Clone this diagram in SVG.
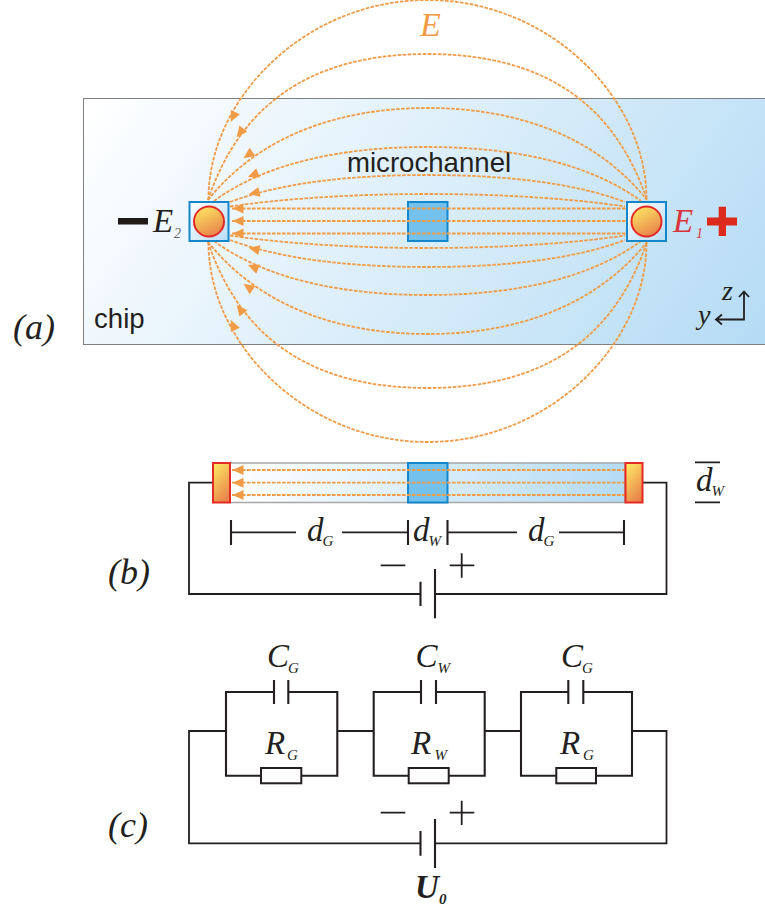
<svg xmlns="http://www.w3.org/2000/svg" width="765" height="909" viewBox="0 0 765 909">
<style>
.m{font-family:"Liberation Serif","DejaVu Serif",serif;font-style:italic;font-size:33px;fill:#231f20}
.s{font-size:15px}
.f{fill:none;stroke:#f29b46;stroke-width:1.8;stroke-dasharray:3.6 1.4}
.w{fill:none;stroke:#231f20;stroke-width:1.8}
.t{fill:none;stroke:#231f20;stroke-width:2.1}
.r{fill:#fff;stroke:#231f20;stroke-width:2}
.a{fill:#f29b46}
.l{font-family:"Liberation Sans",Arial,sans-serif;font-size:27.6px;fill:#231f20}
.el{fill:url(#gc);stroke:#e32b25;stroke-width:2}
.bx{stroke:#1487cb;stroke-width:2}
</style>
<defs>
<linearGradient id="gchip" gradientUnits="userSpaceOnUse" x1="150" y1="20" x2="720" y2="420"><stop offset="0" stop-color="#fff"/><stop offset="1" stop-color="#b4dbf5"/></linearGradient>
<linearGradient id="gbar" gradientUnits="userSpaceOnUse" x1="230" y1="463" x2="625" y2="503"><stop offset="0" stop-color="#fff"/><stop offset="1" stop-color="#b4dbf5"/></linearGradient>
<linearGradient id="gb" x1="0" y1="0" x2="1" y2="1"><stop offset="0" stop-color="#fbfdff"/><stop offset="1" stop-color="#b9ddf5"/></linearGradient>
<linearGradient id="gc" x1="0.2" y1="0" x2="0.7" y2="1"><stop offset="0" stop-color="#fde763"/><stop offset="1" stop-color="#e8804a"/></linearGradient>
<path id="ah" class="a" d="M5.500,0L-5.500,-5L-5.500,5Z"/>
</defs>
<g id="chip">
<rect x="83.500" y="98.500" width="690" height="246" fill="url(#gchip)" stroke="#808080" stroke-width="1"/>
<text class="l" x="94" y="328">chip</text>
<text class="l" x="347" y="172">microchannel</text>
</g>
<g id="channel"><rect class="bx" x="408" y="202" width="39.500" height="39" fill="#74c1ee"/></g>
<g id="connectors">
<path class="f" d="M208.500,200C208,98 306,0 427.500,0C549,0 647,98 646.500,200"/>
<path class="f" d="M208,200C240,105 310,54 427.500,54C545,54 615,105 647,200"/>
<path class="f" d="M208,200C260,135 340,108 427.500,108C515,108 595,135 647,200"/>
<path class="f" d="M214,201C270,160 350,147 427.500,147C505,147 585,160 641,201"/>
<path class="f" d="M230,202C280,183 350,175 427.500,175C505,175 575,183 625,202"/>
<path class="f" d="M230,206.500C280,199 350,194 427.500,194C505,194 575,199 625,206.500"/>
<path class="f" d="M232,208.500H626M232,221H626M232,233.500H626"/>
<path class="f" d="M230,235.500C280,243 350,248 427.500,248C505,248 575,243 625,235.500"/>
<path class="f" d="M230,240C280,259 350,267 427.500,267C505,267 575,259 625,240"/>
<path class="f" d="M214,241C270,282 350,295 427.500,295C505,295 585,282 641,241"/>
<path class="f" d="M208,242C260,307 340,334 427.500,334C515,334 595,307 647,242"/>
<path class="f" d="M208,242C240,337 310,388 427.500,388C545,388 615,337 647,242"/>
<path class="f" d="M208.500,242C208,344 306,442 427.500,442C549,442 647,344 646.500,242"/>
<use href="#ah" transform="translate(233,117) rotate(115)"/>
<use href="#ah" transform="translate(240,133) rotate(128)"/>
<use href="#ah" transform="translate(248,155) rotate(145)"/>
<use href="#ah" transform="translate(253,175) rotate(158)"/>
<use href="#ah" transform="translate(254,193) rotate(168)"/>
<use href="#ah" transform="translate(238,208.500) rotate(180)"/>
<use href="#ah" transform="translate(238,221) rotate(180)"/>
<use href="#ah" transform="translate(238,233.500) rotate(180)"/>
<use href="#ah" transform="translate(254,249) rotate(192)"/>
<use href="#ah" transform="translate(253,267) rotate(202)"/>
<use href="#ah" transform="translate(248,287) rotate(215)"/>
<use href="#ah" transform="translate(240,309) rotate(232)"/>
<use href="#ah" transform="translate(233,325) rotate(245)"/>
</g>
<g id="field-label"><text class="m" x="420" y="36" style="fill:#f29b46;font-size:34px">E</text></g>
<g id="E2">
<rect class="bx" x="189.500" y="202" width="39" height="39" fill="url(#gb)"/>
<circle class="el" cx="209" cy="221.500" r="15"/>
<rect x="118" y="218" width="30" height="6.500" fill="#1d1a18"/>
<text class="m" x="153" y="232">E<tspan class="s" x="174" y="238" style="font-size:14px;fill:#666">2</tspan></text>
</g>
<g id="E1">
<rect class="bx" x="627" y="202" width="39" height="39" fill="url(#gb)"/>
<circle class="el" cx="646.500" cy="221.500" r="15"/>
<text class="m" x="673" y="232" style="fill:#d9343a">E<tspan class="s" x="696" y="238" style="font-size:14px">1</tspan></text>
<path d="M707,217.500H718.700V206.700H726V217.500H737V225.600H726V236H718.700V225.600H707Z" fill="#dc2a1c"/>
</g>
<g id="axes">
<path class="w" d="M744,292V319.500H717M739,297L744,291.500L749,297M722,314.500L716,319.500L722,324.500"/>
<text class="m" x="722" y="300" style="font-size:28px">z</text>
<text class="m" x="698" y="324" style="font-size:28px">y</text>
</g>
<g id="panel-labels">
<text class="m" x="13" y="339" style="font-size:36px">(a)</text>
<text class="m" x="108" y="584" style="font-size:36px">(b)</text>
<text class="m" x="108" y="837" style="font-size:36px">(c)</text>
</g>
<g id="bar">
<rect x="230" y="463" width="395" height="39.500" fill="url(#gbar)" stroke="#a8a8a8" stroke-width="1.500"/>
<rect class="bx" x="408" y="463" width="39.500" height="39.500" fill="#74c1ee"/>
</g>
<g id="bar-connectors">
<path class="f" d="M232,470H625M232,482.700H625M232,495H625"/>
<use href="#ah" transform="translate(238,470) rotate(180)"/>
<use href="#ah" transform="translate(238,482.700) rotate(180)"/>
<use href="#ah" transform="translate(238,495) rotate(180)"/>
<path class="w" d="M213,482.700H189V594H420.500M435,594H666.500V482.700H642"/>
<path class="t" d="M420.500,581.700V606M435,569V618.300"/>
</g>
<g id="bar-E2"><rect class="el" x="213" y="463" width="17" height="39.500"/></g>
<g id="bar-E1"><rect class="el" x="625.500" y="463" width="17" height="39.500"/></g>
<g id="dimensions">
<path class="w" d="M231,532.300H296M342,532.300H408M447.500,532.300H517M559,532.300H624"/>
<path class="t" d="M231,520V545M408,520V545M447.500,520V545M624,520V545"/>
<text class="m" x="307" y="541">d<tspan class="s" x="322.500" y="546">G</tspan></text>
<text class="m" x="413" y="541">d<tspan class="s" x="428.500" y="546">W</tspan></text>
<text class="m" x="528" y="541">d<tspan class="s" x="543.500" y="546">G</tspan></text>
<text class="m" x="696" y="491">d<tspan class="s" x="711.500" y="496">W</tspan></text>
<path class="w" d="M695,462.300H720M695,502.300H720"/>
<path class="w" d="M380.700,565.300H405.300M449.700,565.300H474.300M461.700,553.300V577.700"/>
</g>
<g id="block-G1">
<path class="t" d="M274,692H226V775.700H261M301.300,775.700H337.300V692H288.300M274,680V704M288.300,680V704"/>
<rect class="r" x="261" y="768" width="40.300" height="15.300"/>
<text class="m" x="267" y="667">C<tspan class="s" x="288" y="673">G</tspan></text>
<text class="m" x="265" y="754">R<tspan class="s" x="287" y="760">G</tspan></text>
</g>
<g id="block-W">
<path class="t" d="M421,692H373.700V775.700H408.700M448.700,775.700H484.700V692H436M421,680V704M436,680V704"/>
<rect class="r" x="408.700" y="768" width="40" height="15.300"/>
<text class="m" x="415.500" y="667">C<tspan class="s" x="437.500" y="673">W</tspan></text>
<text class="m" x="411" y="754">R<tspan class="s" x="434.500" y="760">W</tspan></text>
</g>
<g id="block-G2">
<path class="t" d="M568.300,692H521V775.700H556.300M596,775.700H632V692H583.300M568.300,680V704M583.300,680V704"/>
<rect class="r" x="556.300" y="768" width="39.700" height="15.300"/>
<text class="m" x="561" y="667">C<tspan class="s" x="582" y="673">G</tspan></text>
<text class="m" x="560" y="754">R<tspan class="s" x="583" y="760">G</tspan></text>
</g>
<g id="circuit-connectors">
<path class="w" d="M226,731H189V843.300H420.500M435,843.300H666.500V731H632M337.300,731H373.700M484.700,731H521"/>
<path class="t" d="M420.500,831V855.700M435,819V868"/>
<path class="w" d="M380.700,812.700H405.300M449.700,812.700H474.300M461.700,800.700V825"/>
</g>
<g id="U0"><text class="m" x="415" y="898" style="font-weight:bold">U<tspan class="s" x="439" y="904">0</tspan></text></g>
</svg>
